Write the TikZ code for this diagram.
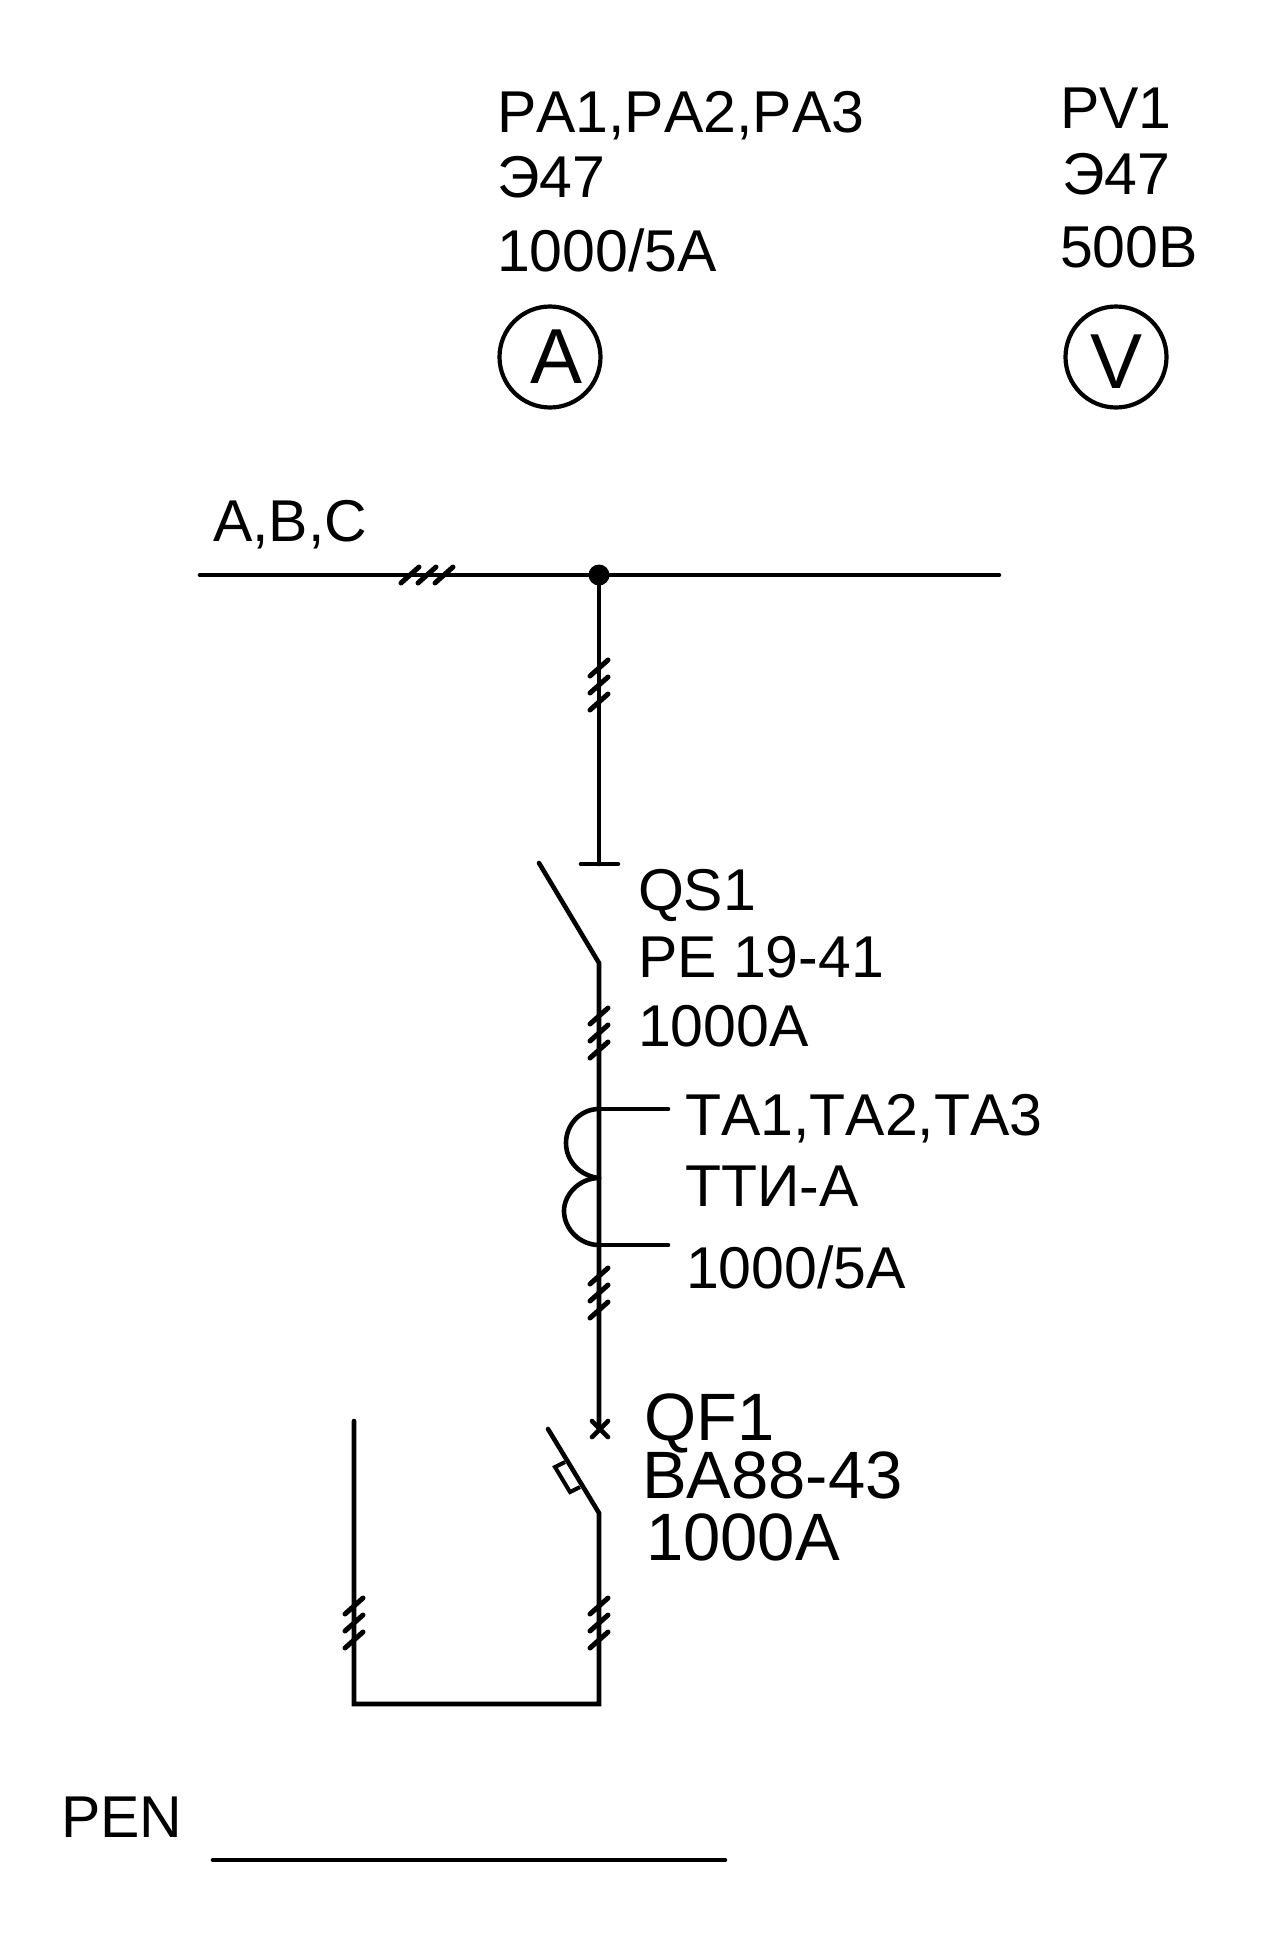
\documentclass[tikz,border=0pt]{standalone}
\usepackage{fontspec}
\setmainfont[Kerning=Off]{Liberation Sans}
\tikzset{
  wire/.style={line width=4.6pt,line cap=round,line join=miter,black},
  tickmark/.style={line width=5pt,line cap=round,black},
  lab/.style={anchor=base west,inner sep=0pt,outer sep=0pt,font=\fontsize{59}{59}\selectfont},
  labbig/.style={lab,font=\fontsize{67}{67}\selectfont},
  meter/.style={circle,draw=black,line width=4.2pt,minimum size=101pt,inner sep=0pt},
  meterlab/.style={inner sep=0pt,font=\fontsize{78}{78}\selectfont},
  junction/.style={circle,fill=black,minimum size=21pt,inner sep=0pt}
}
\newcommand{\vticks}[2]{%
  \foreach \dy in {-17,0,17} {\draw[tickmark] (#1-9,#2+\dy+8) -- (#1+9,#2+\dy-8);}}
\newcommand{\hticks}[2]{%
  \foreach \dx in {-17,0,17} {\draw[tickmark] (#1+\dx-9,#2+8) -- (#1+\dx+9,#2-8);}}
\begin{document}
\begin{tikzpicture}[x=1pt,y=-1pt]
\useasboundingbox (0,0) rectangle (1280,1954);
\fill[white] (0,0) rectangle (1280,1954);
% labels
\node[lab] (pa1) at (497,132) {PA1,PA2,PA3};
\node[lab] (pa2) at (497,197) {Э47};
\node[lab] (pa3) at (497,271) {1000/5A};
\node[lab] (pv1) at (1060,128) {PV1};
\node[lab] (pv2) at (1062,194) {Э47};
\node[lab] (pv3) at (1060,267) {500В};
\node[meter] (ma) at (550,357) {};
\node[meter] (mv) at (1116,357) {};
\node[meterlab] (maT) at (557,357) {A};
\node[meterlab] (mvT) at (1116,362) {V};
\node[lab] (abc) at (213,541) {A,B,C};
\node[lab] (qs1) at (638,910) {QS1};
\node[lab] (qs2) at (638,977) {PE 19-41};
\node[lab] (qs3) at (638,1046) {1000A};
\node[lab] (ta1) at (685,1135) {TA1,TA2,TA3};
\node[lab] (ta2) at (685,1206) {ТТИ-А};
\node[lab] (ta3) at (686,1288) {1000/5A};
\node[labbig] (qf1) at (644,1440) {QF1};
\node[labbig] (qf2) at (642,1498) {BA88-43};
\node[labbig] (qf3) at (646,1560) {1000A};
\node[lab] (pen) at (61,1837) {PEN};
% coordinates
\coordinate (busL) at (200,575);
\coordinate (busR) at (999,575);
\node[junction] (dot) at (599,575) {};
\coordinate (teeC) at (599,864);
\coordinate (teeL) at (581,864);
\coordinate (teeR) at (618,864);
\coordinate (qsTip) at (539,863);
\coordinate (qsHinge) at (599,963);
\coordinate (coilT) at (599,1109);
\coordinate (coilM) at (599,1178);
\coordinate (coilB) at (599,1245);
\coordinate (tapT) at (668,1109);
\coordinate (tapB) at (668,1245);
\coordinate (qfTop) at (599,1429);
\coordinate (qfTip) at (548,1429);
\coordinate (qfHinge) at (599,1513);
\coordinate (botR) at (599,1704);
\coordinate (botL) at (354,1704);
\coordinate (leftT) at (354,1421);
\coordinate (penL) at (213,1860);
\coordinate (penR) at (725,1860);
% wires
\draw[wire] (busL) -- (busR);
\draw[wire] (dot) -- (teeC);
\draw[wire] (teeL) -- (teeR);
\draw[wire] (qsTip) -- (qsHinge) -- (qfTop);
\draw[wire] (coilT) -- (tapT);
\draw[wire] (coilB) -- (tapB);
\draw[wire] (coilT) .. controls (580,1109) and (566,1125) .. (566,1143)
                    .. controls (566,1161) and (580,1176) .. (coilM);
\draw[wire] (coilM) .. controls (580,1178) and (564,1194) .. (564,1211)
                    .. controls (564,1229) and (580,1245) .. (coilB);
\draw[wire] (592,1421) -- (608,1437);
\draw[wire] (592,1437) -- (608,1421);
\draw[wire] (qfTip) -- (qfHinge) -- (botR) -- (botL) -- (leftT);
\draw[line width=4pt,black,line join=miter] (565,1462) -- (555,1467) -- (570,1492) -- (580,1487);
\draw[wire] (penL) -- (penR);
% phase ticks
\hticks{427}{575}
\vticks{599}{685}
\vticks{599}{1033}
\vticks{599}{1293}
\vticks{599}{1623}
\vticks{354}{1623}
\end{tikzpicture}
\end{document}
